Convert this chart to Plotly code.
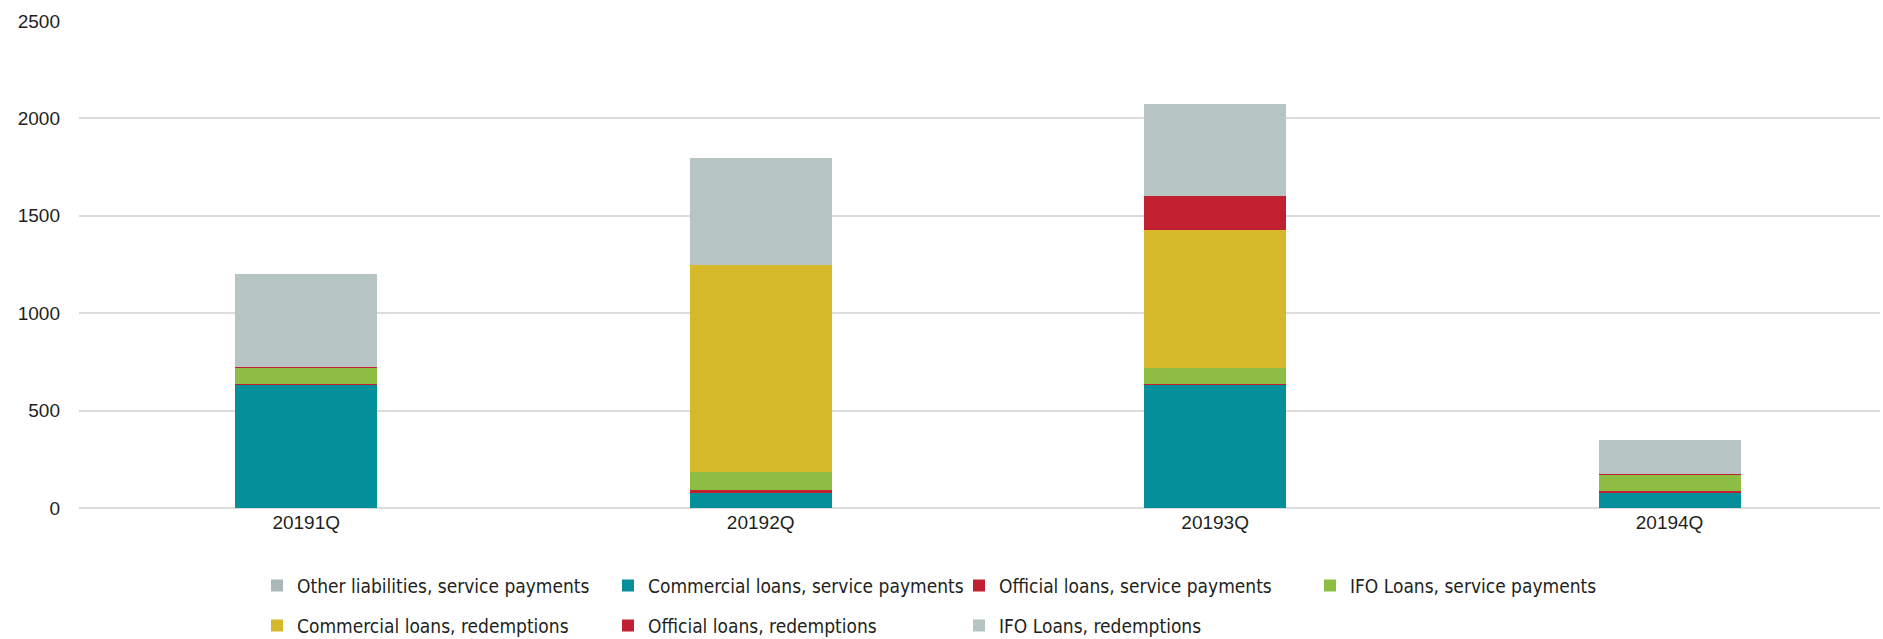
import plotly.graph_objects as go

quarters = ["20191Q", "20192Q", "20193Q", "20194Q"]

other_liab_service = [0, 0, 0, 0]
commercial_service = [632, 82, 632, 79]
official_service = [4, 10, 3, 10]
ifo_service = [83, 91, 86, 84]
commercial_redemptions = [3, 1065, 705, 1]
official_redemptions = [3, 0, 174, 1]
ifo_redemptions = [475, 547, 472, 172]

y_ticks = [0, 500, 1000, 1500, 2000, 2500]

# stacking order bottom -> top, with legend placement
series = [
    ("Other liabilities, service payments", other_liab_service, "#a9b8b7", "legend"),
    ("Commercial loans, service payments", commercial_service, "#058f9b", "legend"),
    ("Official loans, service payments", official_service, "#c0202f", "legend"),
    ("IFO Loans, service payments", ifo_service, "#8dbe43", "legend"),
    ("Commercial loans, redemptions", commercial_redemptions, "#d6b92b", "legend2"),
    ("Official loans, redemptions", official_redemptions, "#c0202f", "legend2"),
    ("IFO Loans, redemptions", ifo_redemptions, "#b6c5c4", "legend2"),
]

fig = go.Figure()
for name, vals, color, leg in series:
    fig.add_trace(go.Bar(
        x=quarters, y=vals, name=name,
        marker=dict(color=color, line=dict(width=0)),
        width=0.3125, legend=leg,
    ))

text_color = "#231f20"
tick_font = dict(family="Liberation Sans, Arial, sans-serif", size=19, color=text_color)
legend_font = dict(family="Liberation Sans Narrow, Arial Narrow, DejaVu Sans Condensed, sans-serif",
                   size=19, color=text_color)

legend_common = dict(
    orientation="h", xanchor="left", yanchor="middle",
    font=legend_font, entrywidth=306, entrywidthmode="pixels",
    itemwidth=30, bgcolor="rgba(0,0,0,0)", traceorder="normal",
)

legend_x = (257 - 79) / 1801

fig.update_layout(
    width=1883, height=639,
    margin=dict(l=79, r=3, t=21, b=131, autoexpand=False),
    paper_bgcolor="white", plot_bgcolor="white",
    barmode="stack",
    showlegend=True,
    legend=dict(x=legend_x, y=(508.3 - 586) / 487.6, **legend_common),
    legend2=dict(x=legend_x, y=(508.3 - 626) / 487.6, **legend_common),
    xaxis=dict(
        type="category", range=[-0.5, 3.463],
        showgrid=False, showline=False, zeroline=False,
        ticks="", tickfont=tick_font, ticklabelstandoff=1,
    ),
    yaxis=dict(
        range=[0, 2500], tickvals=y_ticks,
        showgrid=True, gridcolor="#dcdcdc", gridwidth=2,
        zeroline=True, zerolinecolor="#dcdcdc", zerolinewidth=2,
        showline=False, ticks="", tickfont=tick_font, ticklabelstandoff=18,
    ),
)

fig.write_html("out.html")
